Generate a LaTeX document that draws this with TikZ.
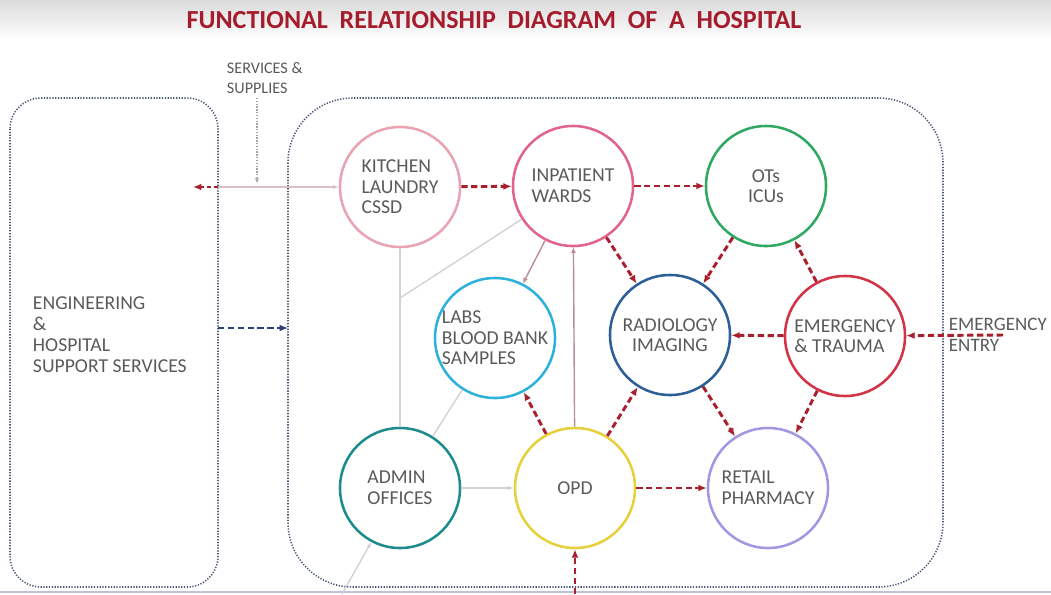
\documentclass[tikz,border=0pt]{standalone}
\usepackage{fontspec}
\setsansfont{Carlito}
\usepackage{tikz}
\usetikzlibrary{arrows.meta,positioning}

\definecolor{titlered}{HTML}{A51C2C}
\definecolor{flowred}{HTML}{A8202E}
\definecolor{txtgray}{HTML}{5A5A5A}
\definecolor{zoneblue}{HTML}{4A5878}
\definecolor{engblue}{HTML}{2C3E7E}
\definecolor{kitpink}{HTML}{E9A3B3}
\definecolor{wardpink}{HTML}{E0648C}
\definecolor{otgreen}{HTML}{2FA862}
\definecolor{labcyan}{HTML}{2DB2DC}
\definecolor{radblue}{HTML}{2C5E98}
\definecolor{emred}{HTML}{D23444}
\definecolor{adminteal}{HTML}{1E8C8C}
\definecolor{opdyellow}{HTML}{E6D03C}
\definecolor{pharmlilac}{HTML}{A596E2}
\definecolor{linkgray}{HTML}{D2D2D2}
\definecolor{linkmauve}{HTML}{B98C9A}

\begin{document}
\begin{tikzpicture}[x=0.025cm, y=-0.025cm, font=\sffamily\fontsize{14}{14.6}\selectfont,
    unit/.style={circle, draw, line width=1.8pt, minimum size=3.0cm, inner sep=0pt, text=txtgray, align=left},
    zone/.style={draw=zoneblue, line width=1.1pt, dash pattern=on 0.9pt off 1.1pt},
    flow/.style={draw=flowred, line width=2.1pt, dash pattern=on 4.5pt off 2.5pt, -{Latex[length=6pt,width=5pt]}},
    link/.style={draw=linkgray, line width=1pt, -{Latex[length=4pt,width=3pt]}},
    mlink/.style={draw=linkmauve, line width=1pt, -{Latex[length=4pt,width=3.5pt]}},
    label/.style={text=txtgray, align=left, anchor=west}]
    \useasboundingbox (0,0) rectangle (1051,594);
    \fill[top color=black!14, bottom color=white] (0,0) rectangle (1051,40);
    \draw[draw=blue!20!gray!40, line width=1pt] (0,592) -- (1051,592);

    % Title
    \node[font=\sffamily\bfseries\fontsize{18.5}{20}\selectfont, text=titlered] (title) at (494,20)
        {FUNCTIONAL\ \ RELATIONSHIP\ \ DIAGRAM\ \ OF\ \ A\ \ HOSPITAL};

    % Zones
    \draw[zone, rounded corners=22pt] (10,98) rectangle (218,587);
    \draw[zone, rounded corners=46pt] (288,98) rectangle (943,587);
    \node[label, font=\sffamily\fontsize{14}{15}\selectfont] (eng) at (28,335) {ENGINEERING\\\&\\HOSPITAL\\SUPPORT SERVICES};
    \node[label, font=\sffamily\fontsize{11.5}{14}\selectfont] (ss) at (222,78) {SERVICES \&\\SUPPLIES};

    % Departments
    \node[unit, draw=kitpink] (kit) at (400,187) {KITCHEN\\LAUNDRY\\CSSD};
    \node[unit, draw=wardpink] (ward) at (573,186) {INPATIENT\\WARDS};
    \node[unit, draw=otgreen, align=center] (ot) at (766,186) {OTs\\ICUs};
    \node[unit, draw=labcyan] (lab) at (495,338) {LABS\\BLOOD BANK\\SAMPLES};
    \node[unit, draw=radblue, align=center] (rad) at (670,335) {RADIOLOGY\\IMAGING};
    \node[unit, draw=emred] (emg) at (845,336) {EMERGENCY\\\& TRAUMA};
    \node[unit, draw=adminteal] (adm) at (400,488) {ADMIN\\OFFICES};
    \node[unit, draw=opdyellow] (opd) at (575,488) {OPD};
    \node[unit, draw=pharmlilac] (rx) at (768,488) {RETAIL\\PHARMACY};

    % Outside links
    \coordinate (ssTop) at (257,98);
    \coordinate (ssJoin) at (257,184);
    \coordinate (engTap) at (218,187);
    \coordinate (engOut) at (193,187);
    \coordinate (engE) at (218,328);
    \coordinate (hospW) at (288,328);
    \coordinate (entry) at (1003,335);
    \coordinate (opdIn) at (575,594);
    \coordinate (admIn) at (342,594);
    \coordinate (admFork) at (400,298);

    \draw[draw=gray!70, line width=0.8pt, dash pattern=on 1pt off 1pt, -{Latex[length=4pt,width=3pt]}] (ssTop) -- (ssJoin);
    \draw[link, draw=linkmauve!55] (engTap) -- (kit);
    \draw[flow, line width=1.2pt, dash pattern=on 3pt off 2pt] (engTap) -- (engOut);
    \draw[flow, draw=engblue] (engE) -- (hospW);
    \draw[flow] (entry) -- (emg);
    \node[label, font=\sffamily\fontsize{13.5}{14.5}\selectfont] (entryLbl) at (944,335) {EMERGENCY\\ENTRY};
    \draw[flow] (opdIn) -- (opd);
    \draw[link] (admIn) -- (adm.-118);

    % Main flows
    \draw[flow] (kit) -- (ward);
    \draw[flow] (ward) -- (ot);
    \draw[flow] (ward) -- (rad);
    \draw[flow] (ot) -- (rad);
    \draw[flow] (emg) -- (ot);
    \draw[flow] (emg) -- (rad);
    \draw[flow] (emg) -- (rx);
    \draw[flow] (rad) -- (rx);
    \draw[flow] (opd) -- (rad);
    \draw[flow] (opd) -- (lab);
    \draw[flow] (opd) -- (rx);

    % Secondary links
    \draw[mlink] (ward) -- (lab);
    \draw[mlink] (opd) -- (ward);
    \draw[draw=linkgray, line width=1pt] (adm) -- (kit);
    \draw[draw=linkgray, line width=1pt] (admFork) -- (ward);
    \draw[draw=linkgray, line width=1pt] (adm) -- (lab);
    \draw[link] (adm) -- (opd);
\end{tikzpicture}
\end{document}
